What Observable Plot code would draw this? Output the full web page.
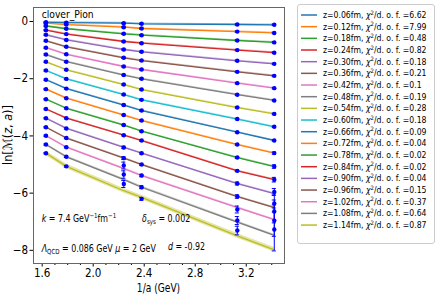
<!DOCTYPE html>
<html><head><meta charset="utf-8">
<script src="https://cdn.jsdelivr.net/npm/d3@7"></script>
<script src="https://cdn.jsdelivr.net/npm/@observablehq/plot@0.6"></script>
<style>
body{margin:0;background:#fff;}
#chart svg{font-family:"DejaVu Sans Condensed","DejaVu Sans",sans-serif;}
</style></head><body><div id="chart"></div>
<script>
const zValues = [0.06,0.12,0.18,0.24,0.30,0.36,0.42,0.48,0.54,0.60,0.66,0.72,0.78,0.84,0.90,0.96,1.02,1.08,1.14];
const chi2 = [6.62,7.99,0.48,0.82,0.18,0.21,0.1,0.19,0.28,0.18,0.09,0.04,0.02,0.02,0.04,0.15,0.37,0.64,0.87];
const invA = [1.63,1.79,2.24,2.38,3.13,3.42];
const fitLn = [
[-0.028,-0.039,-0.059,-0.080,-0.105,-0.115],
[-0.056,-0.106,-0.199,-0.245,-0.353,-0.400],
[-0.157,-0.253,-0.430,-0.479,-0.664,-0.730],
[-0.301,-0.440,-0.699,-0.759,-1.000,-1.090],
[-0.465,-0.645,-0.979,-1.059,-1.374,-1.480],
[-0.675,-0.883,-1.269,-1.364,-1.759,-1.900],
[-0.916,-1.146,-1.573,-1.678,-2.154,-2.330],
[-1.154,-1.405,-1.871,-2.003,-2.559,-2.760],
[-1.409,-1.687,-2.203,-2.378,-3.007,-3.230],
[-1.713,-2.007,-2.552,-2.738,-3.409,-3.680],
[-2.035,-2.345,-2.920,-3.112,-3.871,-4.160],
[-2.364,-2.681,-3.269,-3.462,-4.301,-4.600],
[-2.717,-3.033,-3.619,-3.836,-4.755,-5.070],
[-3.059,-3.380,-3.976,-4.161,-5.220,-5.530],
[-3.381,-3.738,-4.402,-4.605,-5.664,-6.020],
[-3.696,-4.074,-4.776,-5.000,-6.119,-6.510],
[-3.993,-4.394,-5.140,-5.385,-6.503,-6.930],
[-4.301,-4.730,-5.528,-5.794,-7.010,-7.480],
[-4.605,-5.064,-5.916,-6.150,-7.493,-7.980]];
const fitBand = [0.03,0.03,0.03,0.03,0.03,0.03,0.03,0.03,0.03,0.03,0.03,0.03,0.03,0.03,0.03,0.03,0.035,0.04,0.08];
const dataLn = [
[-0.028,-0.039,-0.059,-0.080,-0.105,-0.115],
[-0.056,-0.106,-0.199,-0.245,-0.353,-0.400],
[-0.157,-0.253,-0.430,-0.479,-0.664,-0.730],
[-0.301,-0.440,-0.699,-0.759,-1.000,-1.090],
[-0.465,-0.645,-0.979,-1.059,-1.374,-1.480],
[-0.675,-0.883,-1.269,-1.364,-1.759,-1.900],
[-0.916,-1.146,-1.573,-1.678,-2.154,-2.330],
[-1.154,-1.405,-1.871,-2.003,-2.559,-2.760],
[-1.409,-1.687,-2.203,-2.378,-3.007,-3.230],
[-1.713,-2.007,-2.552,-2.738,-3.409,-3.680],
[-2.035,-2.345,-2.920,-3.112,-3.871,-4.160],
[-2.364,-2.681,-3.269,-3.462,-4.301,-4.600],
[-2.717,-3.033,-3.619,-3.836,-4.755,-5.070],
[-3.059,-3.380,-3.976,-4.161,-5.220,-5.530],
[-3.381,-3.738,-4.402,-4.605,-5.664,-5.960],
[-3.696,-4.074,-4.776,-5.000,-6.119,-6.360],
[-3.993,-4.394,-5.035,-5.385,-6.573,-6.640],
[-4.301,-4.730,-5.350,-5.794,-6.958,-6.960],
[-4.605,-5.064,-5.682,-6.199,-7.308,-7.270]];
const dataErr = [
[0.025,0.025,0.025,0.025,0.025,0.025],
[0.025,0.025,0.025,0.025,0.025,0.025],
[0.025,0.025,0.025,0.025,0.025,0.025],
[0.025,0.025,0.025,0.025,0.025,0.025],
[0.025,0.025,0.025,0.025,0.025,0.025],
[0.025,0.025,0.025,0.025,0.025,0.025],
[0.025,0.025,0.025,0.025,0.025,0.025],
[0.025,0.025,0.025,0.025,0.025,0.025],
[0.025,0.025,0.025,0.025,0.025,0.025],
[0.025,0.025,0.025,0.025,0.025,0.025],
[0.025,0.025,0.025,0.025,0.025,0.025],
[0.025,0.025,0.025,0.025,0.025,0.04],
[0.025,0.025,0.025,0.025,0.03,0.06],
[0.025,0.025,0.025,0.025,0.03,0.08],
[0.025,0.025,0.04,0.03,0.05,0.12],
[0.025,0.025,0.05,0.03,0.06,0.30],
[0.025,0.025,0.12,0.04,0.12,0.40],
[0.025,0.025,0.13,0.05,0.14,0.55],
[0.025,0.03,0.12,0.05,0.15,0.75]];
const xTicks = [1.6,2.0,2.4,2.8,3.2];
const yTicks = [0,-2,-4,-6,-8];
const palette = ["#1f77b4","#ff7f0e","#2ca02c","#d62728","#9467bd","#8c564b","#e377c2","#7f7f7f","#bcbd22","#17becf"];

const fitRows = zValues.flatMap((z, s) => invA.map((x, j) => ({s, x, y: fitLn[s][j], b: fitBand[s], c: palette[s % 10]})));
const ptRows = zValues.flatMap((z, s) => invA.map((x, j) => ({s, x, y: dataLn[s][j], e: dataErr[s][j]})));
const capRows = ptRows.flatMap(d => [{x: d.x, y: d.y - d.e}, {x: d.x, y: d.y + d.e}]);
const minorX = d3.range(16, 35).map(v => v / 10).filter(v => !xTicks.some(t => Math.abs(t - v) < 1e-9));

const FONT = '"DejaVu Sans Condensed","DejaVu Sans",sans-serif';
const plot = Plot.plot({
  width: 436, height: 300,
  marginLeft: 33, marginRight: 152, marginTop: 7, marginBottom: 37,
  x: {domain: [1.532, 3.5]},
  y: {domain: [-8.46, 0.49]},
  color: {type: "identity"},
  style: {fontFamily: FONT, fontSize: "11.5px", color: "#000", background: "#fff"},
  marks: [
    Plot.areaY(fitRows, {x: "x", y1: d => d.y - d.b, y2: d => d.y + d.b, z: "s", fill: "c", fillOpacity: 0.4}),
    Plot.line(fitRows, {x: "x", y: "y", z: "s", stroke: "c", strokeWidth: 1.3}),
    Plot.ruleX(ptRows, {x: "x", y1: d => d.y - d.e, y2: d => d.y + d.e, stroke: "#0000ff", strokeWidth: 1}),
    Plot.ruleY(capRows, {y: "y", x1: d => d.x - 0.016, x2: d => d.x + 0.016, stroke: "#0000ff", strokeWidth: 1}),
    Plot.dot(ptRows, {x: "x", y: "y", r: 2.2, fill: "#0000ff"}),
    Plot.axisX({ticks: xTicks, tickSize: 3.5, tickPadding: 2, tickFormat: d3.format(".1f"), label: null}),
    Plot.axisX({ticks: minorX, tickSize: 2, tickFormat: () => "", label: null}),
    Plot.axisY({ticks: yTicks, tickSize: 3.5, tickPadding: 2, label: null}),
    Plot.frame({stroke: "#666"})
  ]
});

const svg = d3.select(plot);
const sx = plot.scale("x"), sy = plot.scale("y");
const SQ = 0.88; // horizontal squeeze of the reference's lettering

// axis labels
svg.append("text").attr("transform", `translate(158.5,292) scale(0.88,1)`).attr("text-anchor", "middle")
  .attr("font-size", 11.5).attr("fill", "#000").text("1/a (GeV)");
const yl = svg.append("text").attr("transform", "translate(12,135) rotate(-90)").attr("text-anchor", "middle")
  .attr("font-size", 12.5).attr("fill", "#000");
yl.append("tspan").text("ln[");
yl.append("tspan").attr("font-style", "italic").text("ℳ");
yl.append("tspan").text("(");
yl.append("tspan").attr("font-style", "italic").text("z");
yl.append("tspan").text(", ");
yl.append("tspan").attr("font-style", "italic").text("a");
yl.append("tspan").text(")]");

// annotations
const ann = svg.append("g").attr("font-size", 10).attr("fill", "#000").attr("text-anchor", "start");
const place = (x, y, s) => ann.append("text").attr("transform", `translate(${sx.apply(x)},${sy.apply(y)}) scale(${s},1)`);
place(1.6, 0.105, 0.93).attr("font-size", 11).text("clover_Pion");
const t1 = place(1.6, -7.03, SQ);
t1.append("tspan").attr("font-style", "italic").text("k");
t1.append("tspan").text(" = 7.4 GeV");
t1.append("tspan").attr("font-size", 7).attr("dy", -4).text("−1");
t1.append("tspan").attr("dy", 4).text("fm");
t1.append("tspan").attr("font-size", 7).attr("dy", -4).text("−1");
const t2 = place(2.387, -7.03, SQ);
t2.append("tspan").attr("font-style", "italic").text("δ");
t2.append("tspan").attr("font-size", 7).attr("dy", 2).text("sys");
t2.append("tspan").attr("dy", -2).text(" = 0.002");
const t3 = place(1.6, -8.06, SQ);
t3.append("tspan").attr("font-style", "italic").text("Λ");
t3.append("tspan").attr("font-size", 7).attr("dy", 2).text("QCD");
t3.append("tspan").attr("dy", -2).text(" = 0.086 GeV ");
t3.append("tspan").attr("font-style", "italic").text("μ");
t3.append("tspan").text(" = 2 GeV");
const t4 = place(2.59, -8.02, SQ);
t4.append("tspan").attr("font-style", "italic").text("d");
t4.append("tspan").text(" = -0.92");

// legend
const lg = svg.append("g").attr("text-anchor", "start");
lg.append("rect").attr("x", 297.5).attr("y", 4.5).attr("width", 137).attr("height", 239)
  .attr("rx", 2.5).attr("fill", "#fff").attr("stroke", "#ccc").attr("stroke-width", 1);
zValues.forEach((z, i) => {
  const y = 15 + 11.67 * i;
  lg.append("line").attr("x1", 301).attr("x2", 317).attr("y1", y).attr("y2", y)
    .attr("stroke", palette[i % 10]).attr("stroke-width", 1.5);
  const t = lg.append("text").attr("x", 323).attr("y", y + 3).attr("font-size", 8.6).attr("fill", "#000");
  t.append("tspan").text(`z=${z.toFixed(2)}fm, `);
  t.append("tspan").attr("font-style", "italic").text("χ");
  t.append("tspan").attr("font-size", 6).attr("dy", -3.5).text("2");
  t.append("tspan").attr("dy", 3.5).text(`/d. o. f. =${chi2[i]}`);
});

document.getElementById("chart").appendChild(plot);
</script>
</body></html>
